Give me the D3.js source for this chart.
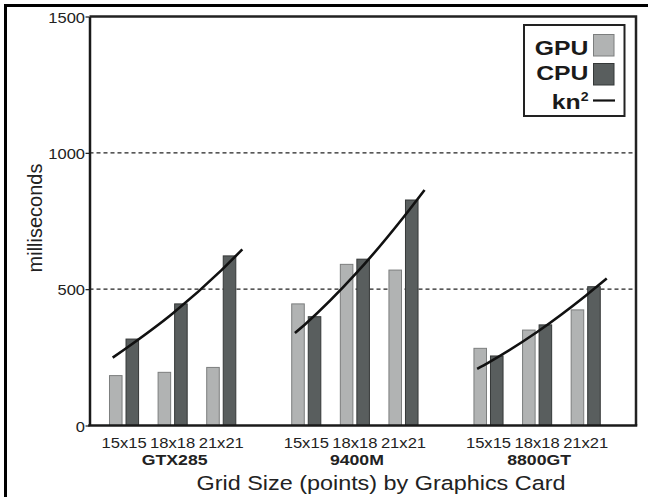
<!DOCTYPE html>
<html>
<head>
<meta charset="utf-8">
<script src="https://cdn.jsdelivr.net/npm/d3@7"></script>
<style>
    html, body { margin: 0; padding: 0; background: #fff; }
    svg { display: block; font-family: "Liberation Sans", Arial, sans-serif; }
</style>
</head>
<body>
<script>
// categories
const groups = ["GTX285", "9400M", "8800GT"],
    sizes = ["15x15", "18x18", "21x21"],
    series = ["GPU", "CPU"];

// milliseconds per grid size
const gpuGTX285 = [183, 195, 213],
    cpuGTX285 = [317, 446, 622],
    gpu9400M = [446, 591, 570],
    cpu9400M = [399, 610, 827],
    gpu8800GT = [283, 350, 424],
    cpu8800GT = [255, 369, 509];

// kn^2 fit lines: grid dimension n against milliseconds
const fitN = [14.3, 15, 18, 21, 22.3],
    fitGTX285 = [249, 278, 411, 569, 646],
    fit9400M = [339, 375, 553, 764, 864],
    fit8800GT = [208, 231, 343, 476, 539];

const yTicks = [0, 500, 1000, 1500],
    gridTicks = [500, 1000],
    legendItems = ["GPU", "CPU", "kn"];

const gpuValues = [gpuGTX285, gpu9400M, gpu8800GT],
    cpuValues = [cpuGTX285, cpu9400M, cpu8800GT],
    fitValues = [fitGTX285, fit9400M, fit8800GT];

const rows = [];
groups.forEach((g, gi) => {
    sizes.forEach((s, si) => {
        rows.push({group: g, size: s, series: "GPU", value: gpuValues[gi][si]});
        rows.push({group: g, size: s, series: "CPU", value: cpuValues[gi][si]});
    });
});

const width = 648,
    height = 497,
    plot = {left: 89.5, top: 16.5, right: 636, bottom: 425.5},
    colours = {GPU: "#b1b3b3", CPU: "#595e5e"},
    strokes = {GPU: "#7c7e7e", CPU: "#353838"},
    ink = "#1a1a1a";

const svg = d3.select("body").append("svg")
    .attr("width", width)
    .attr("height", height);

// outer frame of the figure (runs off the right and bottom edges)
svg.append("rect")
    .attr("x", 5.5)
    .attr("y", 5.5)
    .attr("width", 720)
    .attr("height", 600)
    .attr("fill", "none")
    .attr("stroke", "#000")
    .attr("stroke-width", 3);

const y = d3.scaleLinear()
    .domain([0, 1500])
    .range([plot.bottom, plot.top]);

const x0 = d3.scaleBand()
    .domain(groups)
    .range([99.75, 610])
    .paddingInner(0.2);

const x1 = d3.scaleBand()
    .domain(sizes)
    .range([0, x0.bandwidth()])
    .paddingInner(0.381)
    .paddingOuter(0.19);

const x2 = d3.scaleBand()
    .domain(series)
    .range([0, x1.bandwidth()])
    .paddingInner(0.18);

// dashed gridlines
svg.append("g")
    .selectAll("line")
    .data(gridTicks)
    .enter()
    .append("line")
    .attr("x1", plot.left)
    .attr("x2", plot.right)
    .attr("y1", d => y(d))
    .attr("y2", d => y(d))
    .attr("stroke", "#222")
    .attr("stroke-width", 1.2)
    .attr("stroke-dasharray", "4,3");

// bars
svg.append("g")
    .selectAll("rect")
    .data(rows)
    .enter()
    .append("rect")
    .attr("x", d => x0(d.group) + x1(d.size) + x2(d.series) + 0.5)
    .attr("y", d => y(d.value))
    .attr("width", x2.bandwidth() - 1)
    .attr("height", d => y(0) - y(d.value))
    .attr("fill", d => colours[d.series])
    .attr("stroke", d => strokes[d.series])
    .attr("stroke-width", 1);

// fit curves
groups.forEach((g, gi) => {
    const cx = s => x0(g) + x1(s) + x1.bandwidth() / 2,
        xn = d3.scaleLinear()
            .domain([15, 21])
            .range([cx("15x15"), cx("21x21")]);
    const line = d3.line()
        .x((d, i) => xn(fitN[i]))
        .y(d => y(d))
        .curve(d3.curveMonotoneX);
    svg.append("path")
        .attr("d", line(fitValues[gi]))
        .attr("fill", "none")
        .attr("stroke", "#111")
        .attr("stroke-width", 2.6);
});

// plot frame: top and right
svg.append("path")
    .attr("d", `M${plot.left},${plot.top}H${plot.right}V${plot.bottom}`)
    .attr("fill", "none")
    .attr("stroke", "#222")
    .attr("stroke-width", 2.5);

// y axis
const yAxis = svg.append("g")
    .attr("transform", `translate(${plot.left},0)`)
    .call(d3.axisLeft(y).tickValues(yTicks).tickSize(4).tickSizeOuter(0).tickFormat(d3.format("d")));
yAxis.select(".domain")
    .attr("stroke", ink)
    .attr("stroke-width", 2.5);
yAxis.selectAll(".tick line")
    .attr("stroke", ink)
    .attr("stroke-width", 1.2);
yAxis.selectAll(".tick text")
    .attr("x", 0)
    .attr("dy", 0)
    .attr("transform", "translate(-4.5,5.5) scale(1.1,1)")
    .attr("fill", "#222")
    .style("font-size", "15px");

// x axis baseline
svg.append("line")
    .attr("x1", plot.left - 1.25)
    .attr("x2", plot.right + 1.25)
    .attr("y1", plot.bottom)
    .attr("y2", plot.bottom)
    .attr("stroke", ink)
    .attr("stroke-width", 2.5);

// size labels under each pair
svg.append("g")
    .selectAll("text")
    .data(d3.cross(groups, sizes))
    .enter()
    .append("text")
    .attr("transform", d => `translate(${x0(d[0]) + x1(d[1]) + x1.bandwidth() / 2},447.5) scale(1.07,1)`)
    .attr("text-anchor", "middle")
    .attr("fill", "#222")
    .style("font-size", "15.5px")
    .text(d => d[1]);

// group labels
svg.append("g")
    .selectAll("text")
    .data(groups)
    .enter()
    .append("text")
    .attr("transform", d => `translate(${x0(d) + x0.bandwidth() / 2 + 2},465) scale(1.14,1)`)
    .attr("text-anchor", "middle")
    .attr("fill", "#222")
    .style("font-size", "15.5px")
    .style("font-weight", "bold")
    .text(d => d);

svg.append("text")
    .attr("transform", "translate(381,490) scale(1.2,1)")
    .attr("text-anchor", "middle")
    .attr("fill", "#222")
    .style("font-size", "19.5px")
    .text("Grid Size (points) by Graphics Card");

svg.append("text")
    .attr("transform", "translate(41.5,218) rotate(-90)")
    .attr("text-anchor", "middle")
    .attr("fill", "#222")
    .style("font-size", "20px")
    .text("milliseconds");

// legend
const legend = svg.append("g");
legend.append("rect")
    .attr("x", 524)
    .attr("y", 25)
    .attr("width", 100.5)
    .attr("height", 91)
    .attr("fill", "#fff")
    .attr("stroke", "#222")
    .attr("stroke-width", 2);

const legendBase = [55, 79.5, 108.5];
legendItems.forEach((item, i) => {
    const t = legend.append("text")
        .attr("transform", `translate(588.5,${legendBase[i]}) scale(1.18,1)`)
        .attr("text-anchor", "end")
        .attr("fill", "#1a1a1a")
        .style("font-size", "21px")
        .style("font-weight", "bold")
        .text(item);
    if (i === 2) {
        t.append("tspan")
            .attr("dy", -8)
            .style("font-size", "12px")
            .text("2");
    }
});

series.forEach((s, i) => {
    legend.append("rect")
        .attr("x", 593.5)
        .attr("y", 34.5 + i * 29)
        .attr("width", 20.5)
        .attr("height", 21.5)
        .attr("fill", colours[s])
        .attr("stroke", strokes[s])
        .attr("stroke-width", 1);
});

legend.append("line")
    .attr("x1", 593)
    .attr("x2", 615)
    .attr("y1", 100.5)
    .attr("y2", 100.5)
    .attr("stroke", "#111")
    .attr("stroke-width", 2.2);
</script>
</body>
</html>
